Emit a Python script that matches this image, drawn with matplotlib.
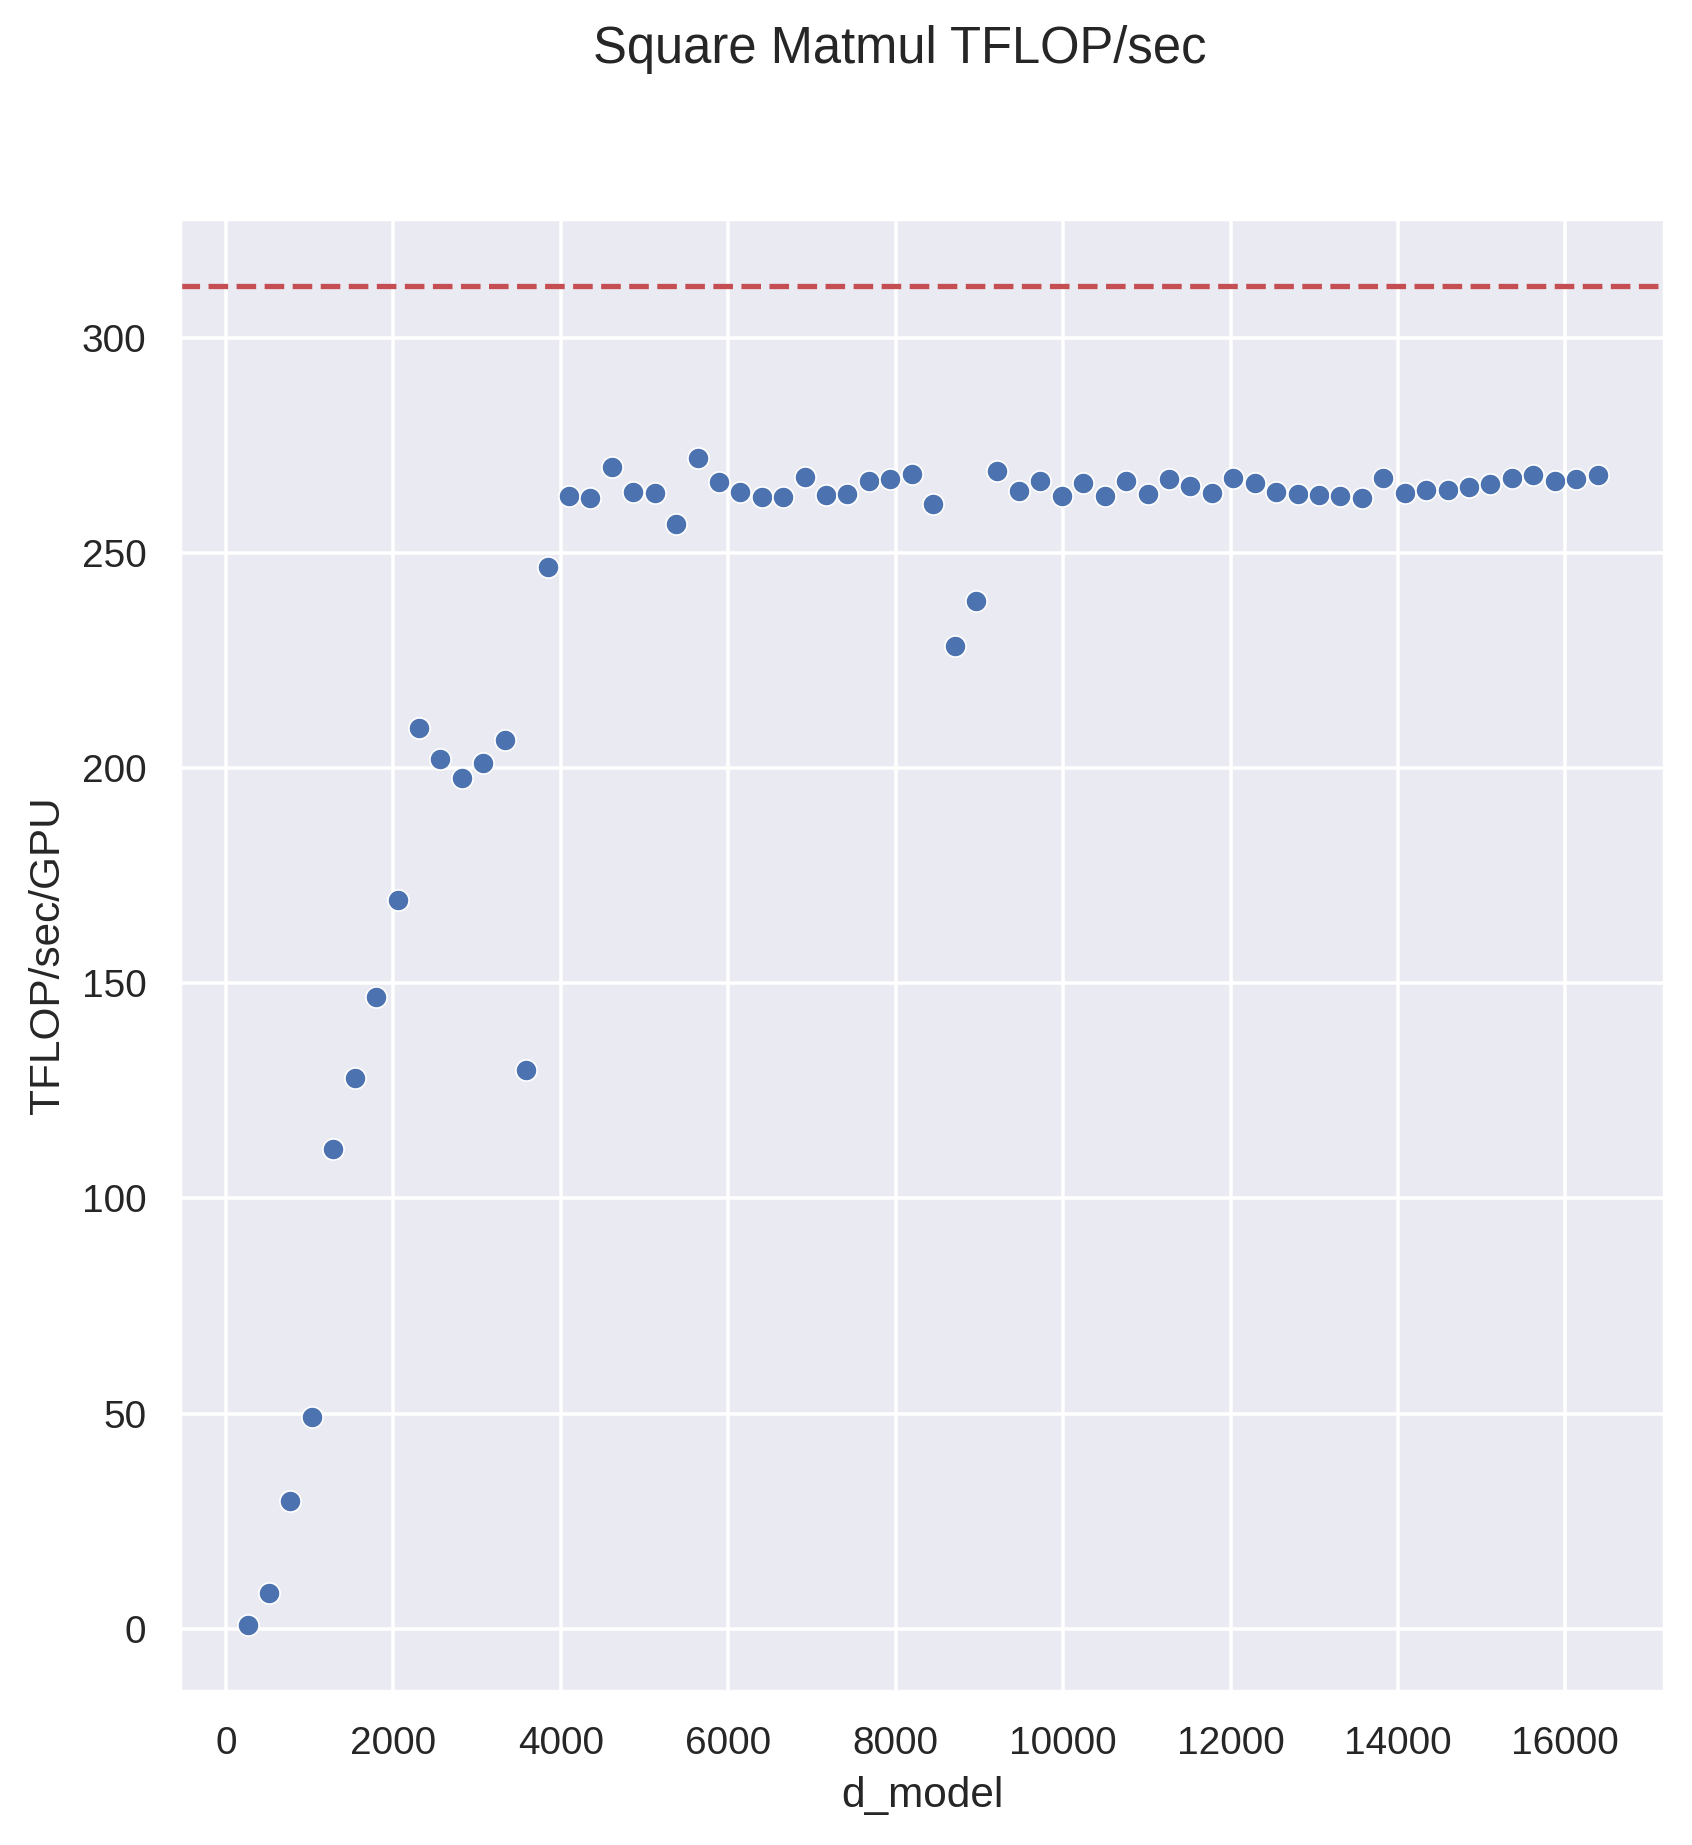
import matplotlib
matplotlib.use("Agg")
import matplotlib.pyplot as plt
import seaborn as sns

# square matmul sizes and measured throughput
d_model = [256, 512, 768, 1024, 1280, 1536, 1792, 2048,
           2304, 2560, 2816, 3072, 3328, 3584, 3840, 4096,
           4352, 4608, 4864, 5120, 5376, 5632, 5888, 6144,
           6400, 6656, 6912, 7168, 7424, 7680, 7936, 8192,
           8448, 8704, 8960, 9216, 9472, 9728, 9984, 10240,
           10496, 10752, 11008, 11264, 11520, 11776, 12032, 12288,
           12544, 12800, 13056, 13312, 13568, 13824, 14080, 14336,
           14592, 14848, 15104, 15360, 15616, 15872, 16128, 16384]
tflops = [0.9, 8.3, 29.8, 49.3, 111.5, 128.1, 146.9, 169.4,
          209.4, 202.0, 197.8, 201.1, 206.6, 129.8, 246.6, 263.1,
          262.8, 270.0, 264.2, 263.9, 256.6, 272.1, 266.5, 264.2,
          263.0, 263.0, 267.7, 263.5, 263.7, 266.7, 267.2, 268.4,
          261.4, 228.3, 238.7, 269.1, 264.4, 266.7, 263.1, 266.3,
          263.3, 266.7, 263.7, 267.2, 265.6, 264.0, 267.4, 266.3,
          264.2, 263.7, 263.5, 263.3, 262.8, 267.4, 264.0, 264.7,
          264.7, 265.4, 266.0, 267.4, 268.1, 266.7, 267.2, 268.1]
peak = 312

sns.set_theme()
plt.rcParams['font.family'] = ['Liberation Sans', 'DejaVu Sans']

W, H, DPI = 1692, 1845, 254
fig = plt.figure(figsize=(W / DPI, H / DPI), dpi=DPI)
ax = fig.add_axes([180 / W, (H - 1692) / H, 1485 / W, 1473 / H])

sns.scatterplot(x=d_model, y=tflops, ax=ax)
ax.axhline(peak, color='r', linestyle='--')

ax.set_xlabel('d_model')
ax.set_ylabel('TFLOP/sec/GPU')
fig.suptitle('Square Matmul TFLOP/sec', x=0.532, y=1 - 63 / H, va='baseline')

fig.savefig('out.png', dpi=DPI)
